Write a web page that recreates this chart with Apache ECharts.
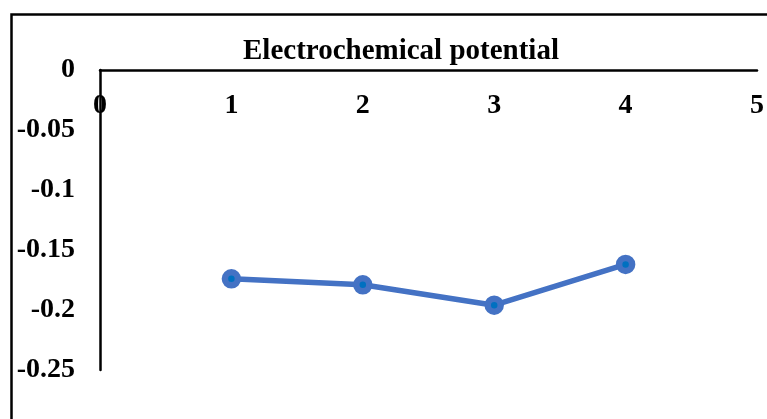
<!DOCTYPE html>
<html>
<head>
<meta charset="utf-8">
<script src="https://cdn.jsdelivr.net/npm/echarts@6/dist/echarts.min.js"></script>
<style>
  html, body { margin: 0; padding: 0; background: #fff; }
  #chart { width: 767px; height: 419px; }
</style>
</head>
<body>
<div id="chart"></div>
<script>
// Sample index and measured potential
const samples = [1, 2, 3, 4];
const potential = [-0.174, -0.179, -0.196, -0.162];
const chartTitle = 'Electrochemical potential';

const serif = '"Liberation Serif", "Times New Roman", serif';
const chart = echarts.init(document.getElementById('chart'));

chart.setOption({
  backgroundColor: '#fff',
  animation: false,
  title: {
    text: chartTitle,
    left: 396,
    top: 32,
    textAlign: 'center',
    textStyle: { fontFamily: serif, fontWeight: 'bold', fontSize: 29, color: '#000' }
  },
  graphic: [{
    type: 'rect',
    left: 9, top: 12,
    shape: { width: 780, height: 430 },
    style: { fill: 'none', stroke: '#000', lineWidth: 2.5 },
    silent: true
  }],
  grid: { left: 100, top: 70, right: 10, bottom: 49, containLabel: false },
  xAxis: {
    type: 'value',
    position: 'top',
    min: 0, max: 5, interval: 1,
    axisLine: { show: true, onZero: false, lineStyle: { color: '#000', width: 2.5 } },
    axisTick: { show: false },
    splitLine: { show: false },
    axisLabel: {
      inside: true, margin: 22,
      showMinLabel: true, showMaxLabel: true,
      fontFamily: serif, fontWeight: 'bold', fontSize: 28, color: '#000'
    }
  },
  yAxis: {
    type: 'value',
    min: -0.25, max: 0, interval: 0.05,
    axisLine: { show: true, onZero: false, lineStyle: { color: '#000', width: 2.5 } },
    axisTick: { show: false },
    splitLine: { show: false },
    axisLabel: {
      margin: 25,
      fontFamily: serif, fontWeight: 'bold', fontSize: 28, color: '#000'
    }
  },
  series: [{
    type: 'line',
    data: samples.map((s, i) => [s, potential[i]]),
    lineStyle: { color: '#4472C4', width: 5.5 },
    symbol: 'circle',
    symbolSize: 13,
    itemStyle: { color: '#0070C0', borderColor: '#4472C4', borderWidth: 6.5 },
    z: 3
  }]
});
</script>
</body>
</html>
